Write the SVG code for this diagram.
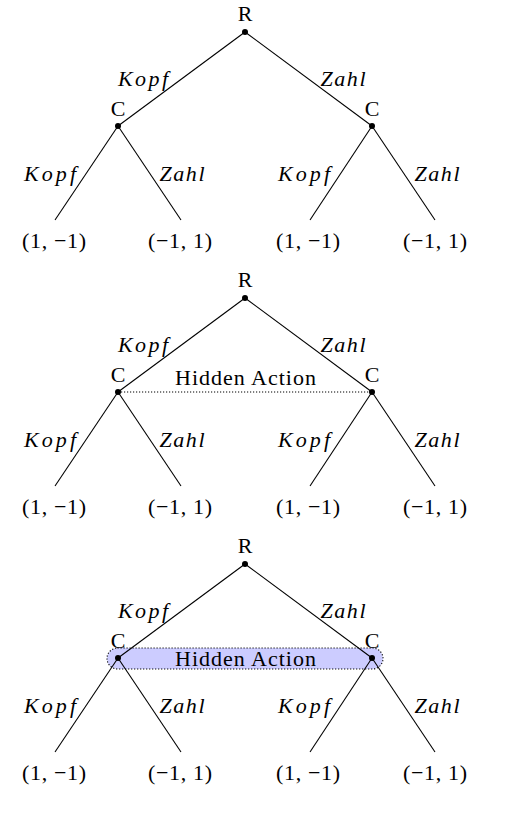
<svg xmlns="http://www.w3.org/2000/svg" width="506" height="813" viewBox="0 0 506 813">
<style>
text{font-family:"Liberation Serif","Times New Roman",serif;font-size:22px;fill:#000;text-anchor:middle}
.m{font-style:italic}
.e{stroke:#000;stroke-width:1.1;fill:none}
.d{fill:#000}
.info{stroke:#000;stroke-width:1.1;stroke-dasharray:1.2 1.8;fill:none}
.box{fill:#ccccff;stroke:#000;stroke-width:1.1;stroke-dasharray:1.2 1.8}
</style>
<!-- Tree 1 -->
<g id="tree1">
<g id="t1-connectors">
<line class="e" x1="245" y1="32" x2="118" y2="126"/>
<line class="e" x1="245" y1="32" x2="372" y2="126"/>
<line class="e" x1="118" y1="126" x2="55" y2="220"/>
<line class="e" x1="118" y1="126" x2="181" y2="220"/>
<line class="e" x1="372" y1="126" x2="310" y2="220"/>
<line class="e" x1="372" y1="126" x2="435" y2="220"/>
<text class="m" x="143" y="86" textLength="50" lengthAdjust="spacing">Kopf</text>
<text class="m" x="343" y="86" textLength="45" lengthAdjust="spacing">Zahl</text>
<text class="m" x="50" y="181" textLength="52" lengthAdjust="spacing">Kopf</text>
<text class="m" x="182" y="181" textLength="45" lengthAdjust="spacing">Zahl</text>
<text class="m" x="304" y="181" textLength="52" lengthAdjust="spacing">Kopf</text>
<text class="m" x="437" y="181" textLength="45" lengthAdjust="spacing">Zahl</text>
</g>
<g id="t1-R"><circle class="d" cx="245" cy="32" r="3"/><text x="245" y="21">R</text></g>
<g id="t1-C1"><circle class="d" cx="118" cy="126" r="3"/><text x="118" y="116">C</text></g>
<g id="t1-C2"><circle class="d" cx="372" cy="126" r="3"/><text x="372" y="116">C</text></g>
<g id="t1-L1"><text x="54" y="248" textLength="64" lengthAdjust="spacing">(1, −1)</text></g>
<g id="t1-L2"><text x="180" y="248" textLength="64" lengthAdjust="spacing">(−1, 1)</text></g>
<g id="t1-L3"><text x="308" y="248" textLength="64" lengthAdjust="spacing">(1, −1)</text></g>
<g id="t1-L4"><text x="435" y="248" textLength="64" lengthAdjust="spacing">(−1, 1)</text></g>
</g>
<!-- Tree 2 -->
<g id="tree2" transform="translate(0,266)">
<g id="t2-connectors">
<line class="e" x1="245" y1="32" x2="118" y2="126"/>
<line class="e" x1="245" y1="32" x2="372" y2="126"/>
<line class="e" x1="118" y1="126" x2="55" y2="220"/>
<line class="e" x1="118" y1="126" x2="181" y2="220"/>
<line class="e" x1="372" y1="126" x2="310" y2="220"/>
<line class="e" x1="372" y1="126" x2="435" y2="220"/>
<line class="info" x1="118" y1="126" x2="372" y2="126"/>
<text class="m" x="143" y="86" textLength="50" lengthAdjust="spacing">Kopf</text>
<text class="m" x="343" y="86" textLength="45" lengthAdjust="spacing">Zahl</text>
<text class="m" x="50" y="181" textLength="52" lengthAdjust="spacing">Kopf</text>
<text class="m" x="182" y="181" textLength="45" lengthAdjust="spacing">Zahl</text>
<text class="m" x="304" y="181" textLength="52" lengthAdjust="spacing">Kopf</text>
<text class="m" x="437" y="181" textLength="45" lengthAdjust="spacing">Zahl</text>
<text x="245.5" y="119" textLength="141" lengthAdjust="spacing">Hidden Action</text>
</g>
<g id="t2-R"><circle class="d" cx="245" cy="32" r="3"/><text x="245" y="21">R</text></g>
<g id="t2-C1"><circle class="d" cx="118" cy="126" r="3"/><text x="118" y="116">C</text></g>
<g id="t2-C2"><circle class="d" cx="372" cy="126" r="3"/><text x="372" y="116">C</text></g>
<g id="t2-L1"><text x="54" y="248" textLength="64" lengthAdjust="spacing">(1, −1)</text></g>
<g id="t2-L2"><text x="180" y="248" textLength="64" lengthAdjust="spacing">(−1, 1)</text></g>
<g id="t2-L3"><text x="308" y="248" textLength="64" lengthAdjust="spacing">(1, −1)</text></g>
<g id="t2-L4"><text x="435" y="248" textLength="64" lengthAdjust="spacing">(−1, 1)</text></g>
</g>
<!-- Tree 3 -->
<g id="tree3" transform="translate(0,532)">
<g id="t3-R"><circle class="d" cx="245" cy="32" r="3"/><text x="245" y="21">R</text></g>
<text x="118" y="116">C</text>
<text x="372" y="116">C</text>
<g id="t3-infoset"><rect class="box" x="107" y="116" width="276" height="21" rx="10.5"/><text x="245.5" y="134" textLength="141" lengthAdjust="spacing">Hidden Action</text></g>
<g id="t3-connectors">
<line class="e" x1="245" y1="32" x2="118" y2="126"/>
<line class="e" x1="245" y1="32" x2="372" y2="126"/>
<line class="e" x1="118" y1="126" x2="55" y2="220"/>
<line class="e" x1="118" y1="126" x2="181" y2="220"/>
<line class="e" x1="372" y1="126" x2="310" y2="220"/>
<line class="e" x1="372" y1="126" x2="435" y2="220"/>
<text class="m" x="143" y="86" textLength="50" lengthAdjust="spacing">Kopf</text>
<text class="m" x="343" y="86" textLength="45" lengthAdjust="spacing">Zahl</text>
<text class="m" x="50" y="181" textLength="52" lengthAdjust="spacing">Kopf</text>
<text class="m" x="182" y="181" textLength="45" lengthAdjust="spacing">Zahl</text>
<text class="m" x="304" y="181" textLength="52" lengthAdjust="spacing">Kopf</text>
<text class="m" x="437" y="181" textLength="45" lengthAdjust="spacing">Zahl</text>
</g>
<g id="t3-C1"><circle class="d" cx="118" cy="126" r="3"/></g>
<g id="t3-C2"><circle class="d" cx="372" cy="126" r="3"/></g>
<g id="t3-L1"><text x="54" y="248" textLength="64" lengthAdjust="spacing">(1, −1)</text></g>
<g id="t3-L2"><text x="180" y="248" textLength="64" lengthAdjust="spacing">(−1, 1)</text></g>
<g id="t3-L3"><text x="308" y="248" textLength="64" lengthAdjust="spacing">(1, −1)</text></g>
<g id="t3-L4"><text x="435" y="248" textLength="64" lengthAdjust="spacing">(−1, 1)</text></g>
</g>
</svg>
